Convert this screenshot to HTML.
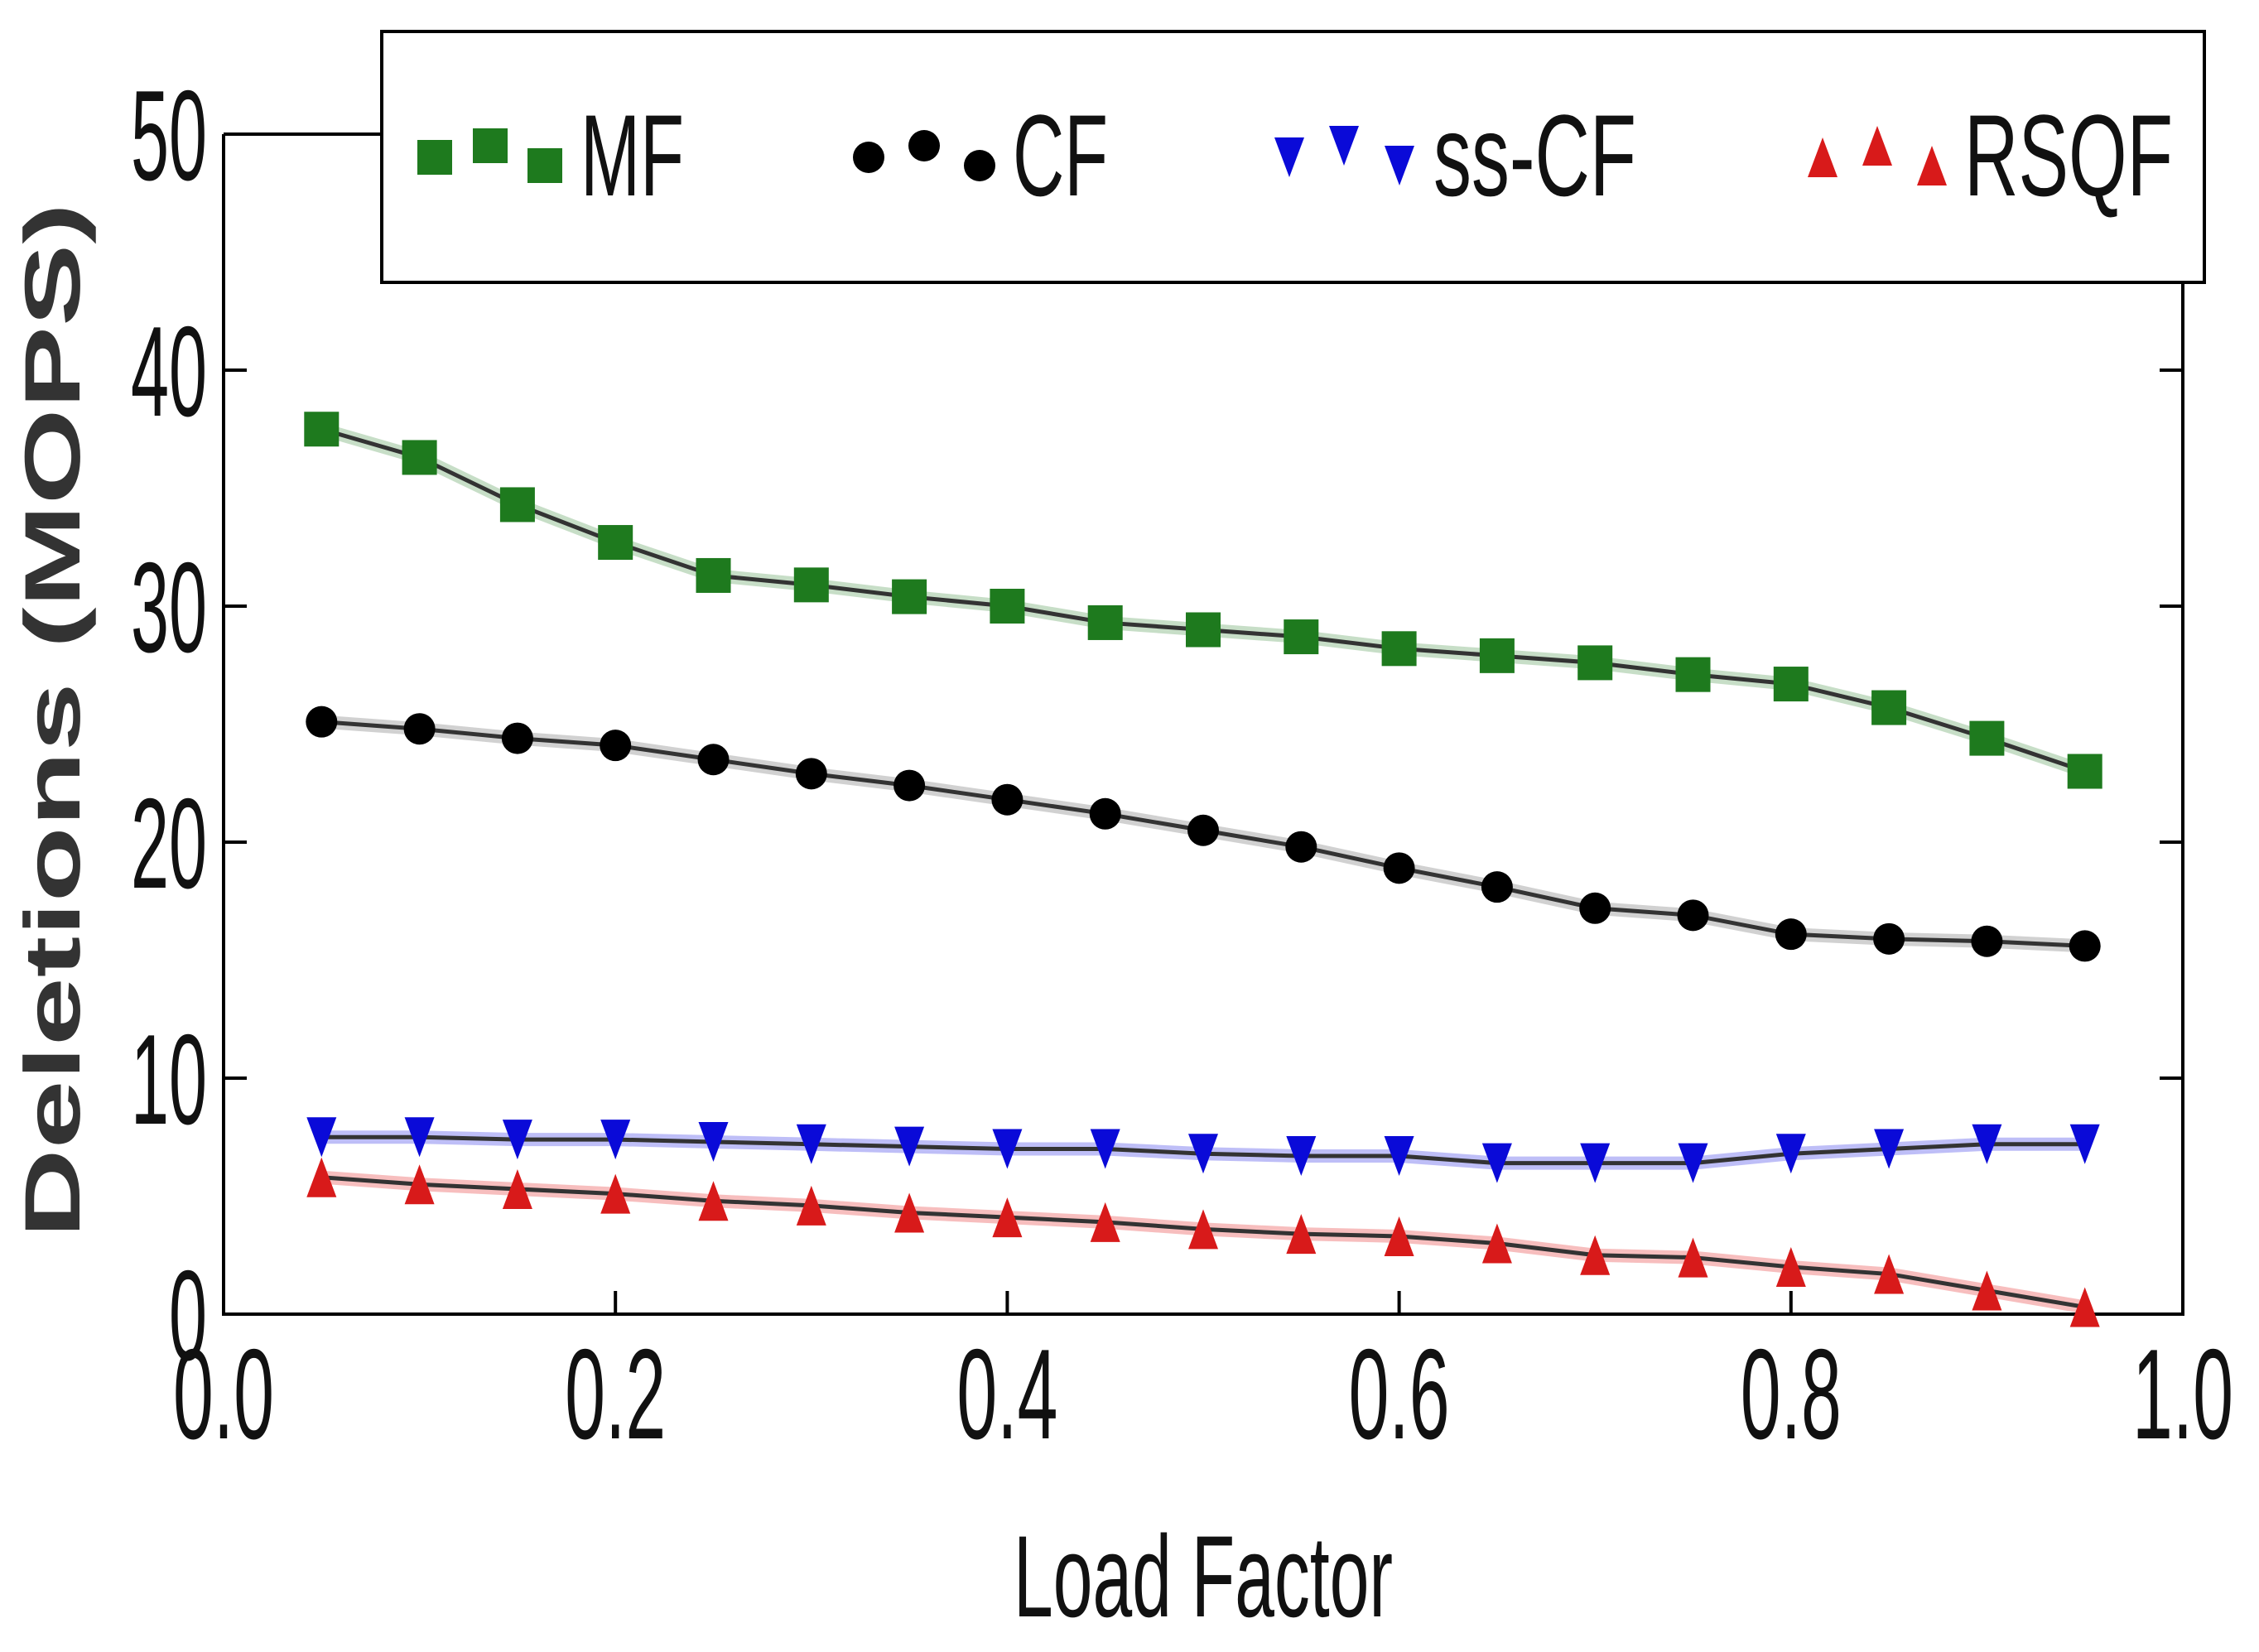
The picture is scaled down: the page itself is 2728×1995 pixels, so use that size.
<!DOCTYPE html>
<html><head><meta charset="utf-8"><style>
html,body{margin:0;padding:0;background:#fff}
svg{display:block}
text{font-family:"Liberation Sans",sans-serif}
</style></head><body>
<svg id="chart" width="2728" height="1995" viewBox="0 0 2728 1995" xmlns="http://www.w3.org/2000/svg">
<g id="axes"></g>
<g id="series"></g>
<g id="legend"></g>
</svg>
<script>
const xValues=[0.05,0.10,0.15,0.20,0.25,0.30,0.35,0.40,0.45,0.50,0.55,0.60,0.65,0.70,0.75,0.80,0.85,0.90,0.95];
const mfValues=[37.5,36.3,34.3,32.7,31.3,30.9,30.4,30.0,29.3,29.0,28.7,28.2,27.9,27.6,27.1,26.7,25.7,24.4,23.0];
const cfValues=[25.1,24.8,24.4,24.1,23.5,22.9,22.4,21.8,21.2,20.5,19.8,18.9,18.1,17.2,16.9,16.1,15.9,15.8,15.6];
const sscfValues=[7.5,7.5,7.4,7.4,7.3,7.2,7.1,7.0,7.0,6.8,6.7,6.7,6.4,6.4,6.4,6.8,7.0,7.2,7.2];
const rsqfValues=[5.8,5.5,5.3,5.1,4.8,4.6,4.3,4.1,3.9,3.6,3.4,3.3,3.0,2.5,2.4,2.0,1.7,1.0,0.3];
const xTicks=[0,0.2,0.4,0.6,0.8,1.0];
const xTickLabels=["0.0","0.2","0.4","0.6","0.8","1.0"];
const yTicks=[0,10,20,30,40,50];
const yTickLabels=["0","10","20","30","40","50"];

const NS="http://www.w3.org/2000/svg";
const L=270,R=2636,T=162,B=1587;
const xs=v=>L+(v-0)/(1-0)*(R-L);
const ys=v=>B-(v-0)/50*(B-T);
function mk(tag,attrs,parent){const e=document.createElementNS(NS,tag);for(const k in attrs)e.setAttribute(k,attrs[k]);parent.appendChild(e);return e;}
const axes=document.getElementById('axes'),series=document.getElementById('series'),legend=document.getElementById('legend');

let sp=mk('path',{d:`M${L},${T} L${L},${B} L${R},${B} L${R},${T} L${L},${T}`,fill:'none',stroke:'#000','stroke-width':4},axes);


xTicks.forEach((t,i)=>{
  const x=xs(t);
  let tk=mk('line',{x1:x,y1:B,x2:x,y2:B-28,stroke:'#000','stroke-width':4},axes);
  
  
  let lb=mk('text',{x:x,y:B+150,'font-size':155,'text-anchor':'middle',fill:'#111',textLength:122,lengthAdjust:'spacingAndGlyphs'},axes);
  lb.textContent=xTickLabels[i];
  
  
});
yTicks.forEach((t,i)=>{
  const y=ys(t);
  let tk=mk('line',{x1:L,y1:y,x2:L+28,y2:y,stroke:'#000','stroke-width':4},axes);
  
  
  let tk2=mk('line',{x1:R,y1:y,x2:R-28,y2:y,stroke:'#000','stroke-width':4},axes);
  
  
  const s=yTickLabels[i];
  let lb=mk('text',{x:L-20,y:y+55,'font-size':155,'text-anchor':'end',fill:'#111',textLength:s.length*46,lengthAdjust:'spacingAndGlyphs'},axes);
  lb.textContent=s;
  
  
});
let xt=mk('text',{x:1453,y:1952,'font-size':140,'text-anchor':'middle',fill:'#111',textLength:458,lengthAdjust:'spacingAndGlyphs'},axes);
xt.textContent='Load Factor';


let yt=mk('text',{x:0,y:0,'font-size':95,'font-weight':'bold','text-anchor':'middle',fill:'#333',textLength:1250,lengthAdjust:'spacingAndGlyphs',transform:'translate(96,870) rotate(-90)'},axes);
yt.textContent='Deletions (MOPS)';



function marker(kind,x,y,color,parent){
  let e;
  if(kind==='square') e=mk('rect',{x:x-21,y:y-21,width:42,height:42,fill:color},parent);
  else if(kind==='circle') e=mk('circle',{cx:x,cy:y,r:19,fill:color},parent);
  else if(kind==='down') e=mk('polygon',{points:`${x-18},${y-24} ${x+18},${y-24} ${x},${y+24}`,fill:color},parent);
  else e=mk('polygon',{points:`${x-18},${y+24} ${x+18},${y+24} ${x},${y-24}`,fill:color},parent);
  return e;
}
const defs=[
  {name:'mf',vals:mfValues,color:'#1e7a1e',kind:'square',halo:'rgba(30,122,30,0.25)'},
  {name:'cf',vals:cfValues,color:'#000',kind:'circle',halo:'rgba(0,0,0,0.18)'},
  {name:'sscf',vals:sscfValues,color:'#0a0ad8',kind:'down',halo:'rgba(40,40,230,0.3)'},
  {name:'rsqf',vals:rsqfValues,color:'#d81a1a',kind:'up',halo:'rgba(230,40,40,0.3)'}
];
defs.forEach(d=>{
  const g=mk('g',{},series);
  
  
  const pts=xValues.map((x,i)=>xs(x)+','+ys(d.vals[i])).join(' ');
  let h=mk('polyline',{points:pts,fill:'none',stroke:d.halo,'stroke-width':16},g);
  
  
  let ln=mk('polyline',{points:pts,fill:'none',stroke:'#333','stroke-width':5},g);
  
  
  xValues.forEach((x,i)=>{
    const m=marker(d.kind,xs(x),ys(d.vals[i]),d.color,g);
    
    
  });
});

let lb=mk('rect',{x:461,y:38,width:2201,height:303,fill:'#fff',stroke:'#000','stroke-width':4},legend);


const legItems=[
  {label:'MF',kind:'square',color:'#1e7a1e',mx:[525,592,658],tx:701,tw:125},
  {label:'CF',kind:'circle',color:'#000',mx:[1049,1116,1183],tx:1223,tw:115},
  {label:'ss-CF',kind:'down',color:'#0a0ad8',mx:[1557,1623,1690],tx:1731,tw:245},
  {label:'RSQF',kind:'up',color:'#d81a1a',mx:[2201,2267,2333],tx:2372,tw:252}
];
const offs=[0,-14,10];
legItems.forEach(it=>{
  const g=mk('g',{},legend);
  
  
  it.mx.forEach((x,i)=>{
    const m=marker(it.kind,x,190+offs[i],it.color,g);
    
    
  });
  const t=mk('text',{x:it.tx,y:236,'font-size':140,fill:'#111',textLength:it.tw,lengthAdjust:'spacingAndGlyphs'},g);
  t.textContent=it.label;
  
  
});
</script>
</body></html>
